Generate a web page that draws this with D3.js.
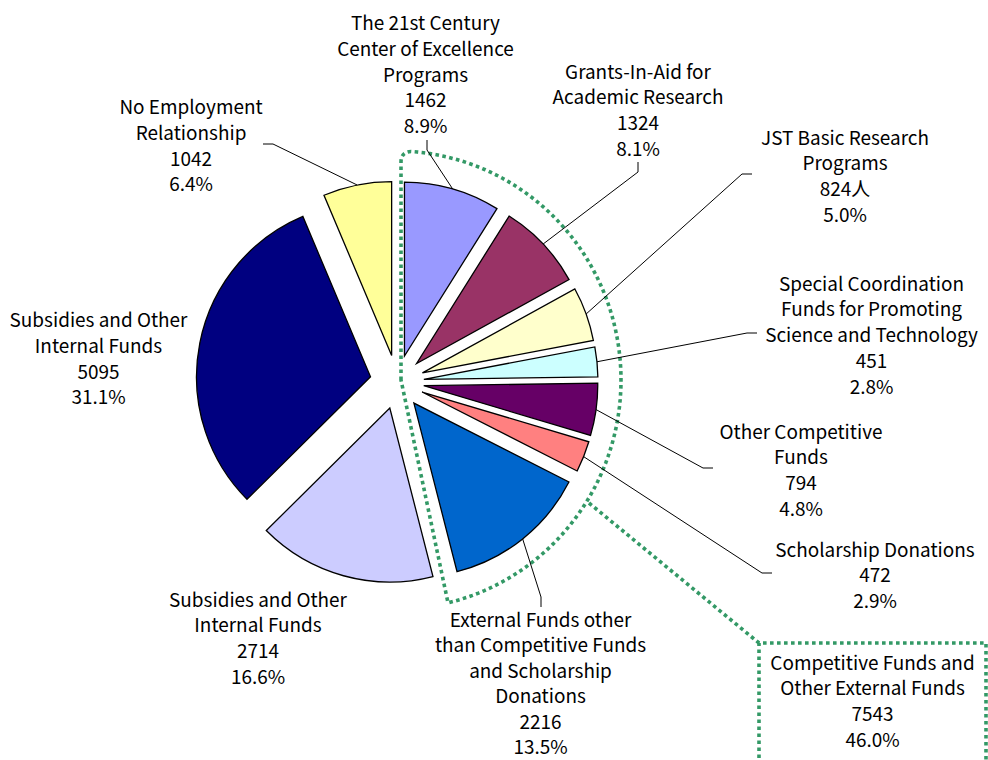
<!DOCTYPE html>
<html><head><meta charset="utf-8">
<script src="https://cdn.jsdelivr.net/npm/d3@7"></script>
<style>body{margin:0;background:#fff}</style>
</head><body><svg id="c" width="988" height="760"></svg>
<script>
// ---- data ----
const categories = [
  "The 21st Century\nCenter of Excellence\nPrograms",
  "Grants-In-Aid for\nAcademic Research",
  "JST Basic Research\nPrograms",
  "Special Coordination\nFunds for Promoting\nScience and Technology",
  "Other Competitive\nFunds",
  "Scholarship Donations",
  "External Funds other\nthan Competitive Funds\nand Scholarship\nDonations",
  "Subsidies and Other\nInternal Funds",
  "Subsidies and Other\nInternal Funds",
  "No Employment\nRelationship"
];
const values = [1462, 1324, 824, 451, 794, 472, 2216, 2714, 5095, 1042];
const valueLabels = ["1462", "1324", "824人", "451", "794", "472", "2216", "2714", "5095", "1042"];
const percentLabels = ["8.9%", "8.1%", "5.0%", "2.8%", "4.8%", "2.9%", "13.5%", "16.6%", "31.1%", "6.4%"];
const groupTitle = "Competitive Funds and\nOther External Funds";
const groupValue = "7543";
const groupPercent = "46.0%";

// ---- styles / layout ----
const colors = ["#9999FF", "#993366", "#FFFFCC", "#CCFFFF", "#660066", "#FF8080", "#0066CC", "#CCCCFF", "#000080", "#FFFF99"];
const cx = 397, cy = 382, R = 174, explode = 27;
const labelPos = [[425.5,30],[638,78.5],[845,144.5],[871.5,290.5],[801,438.5],[875,556.5],[540.5,627],[258,606.5],[98.5,327],[191,114]];
const leaderElbows = [[[427,150],[427,140]],[[638,172],[638,162]],[[742,174],[752,174]],[[747,333],[757,333]],[[703,468],[713,468]],[[762,573],[772,573]],[[541,597],[541,607]],null,null,[[273,144],[263,144]]];
const lineH = 25.8;
const FONT = "'Noto Sans CJK JP', 'Noto Sans', sans-serif";
const green = "#339966";

const svg = d3.select("#c");

// calibrate font size so that a reference line has the reference width
const probe = svg.append("text").attr("font-family", FONT).attr("font-size", 100).text("Subsidies and Other");
const fs = 178 / probe.node().getComputedTextLength() * 100;
probe.remove();

const pie = d3.pie().sort(null).startAngle(0).endAngle(2*Math.PI)(values);
const arc = d3.arc().innerRadius(0).outerRadius(R);

// dotted group outline
const ecx = 396, ecy = 380, erx = 225, ery = 229;
const t0 = Math.asin(15/erx), t1 = Math.PI - Math.asin(52/erx);
const pts = d3.range(0, 101).map(i => { const t = t0 + (t1 - t0) * i / 100; return [ecx + erx*Math.sin(t), ecy - ery*Math.cos(t)]; });
const gp = d3.path();
gp.moveTo(401, 380); gp.lineTo(401, 162); gp.quadraticCurveTo(401, 152, pts[0][0], pts[0][1]);
pts.forEach(p => gp.lineTo(p[0], p[1]));
gp.closePath();

// slices
const g = svg.append("g");
g.selectAll("path.slice").data(pie).join("path")
  .attr("class", "slice")
  .attr("transform", d => { const m = (d.startAngle + d.endAngle)/2; return `translate(${cx + explode*Math.sin(m)},${cy - explode*Math.cos(m)})`; })
  .attr("d", arc)
  .attr("fill", (d,i) => colors[i])
  .attr("stroke", "#000").attr("stroke-width", 1.3).attr("stroke-linejoin", "miter");

svg.append("path").attr("d", gp.toString()).attr("fill", "none")
  .attr("stroke", green).attr("stroke-width", 3.6).attr("stroke-dasharray", "3.6,3.4");
svg.append("path").attr("d", "M589,503 L759,643").attr("fill", "none")
  .attr("stroke", green).attr("stroke-width", 3.6).attr("stroke-dasharray", "3.6,3.4");
svg.append("path").attr("d", "M759,765 L759,643 L986,643 L986,765").attr("fill", "none")
  .attr("stroke", green).attr("stroke-width", 3.6).attr("stroke-dasharray", "3.6,3.4");

// leader lines
pie.forEach((d, i) => {
  const el = leaderElbows[i]; if (!el) return;
  const m = (d.startAngle + d.endAngle)/2;
  const sx = cx + explode*Math.sin(m) + R*Math.sin(m), sy = cy - explode*Math.cos(m) - R*Math.cos(m);
  const p = d3.path(); p.moveTo(sx, sy); el.forEach(q => p.lineTo(q[0], q[1]));
  svg.append("path").attr("d", p.toString()).attr("fill", "none").attr("stroke", "#000").attr("stroke-width", 1);
});

// labels
function block(x, y, lines, lh) {
  const t = svg.append("text").attr("font-family", FONT).attr("font-size", fs).attr("text-anchor", "middle").attr("fill", "#000");
  lines.forEach((s, k) => t.append("tspan").attr("x", x).attr("y", y + k*(lh || lineH)).text(s));
}
pie.forEach((d, i) => {
  block(labelPos[i][0], labelPos[i][1], categories[i].split("\n").concat([valueLabels[i], percentLabels[i]]), i === 6 ? 25.4 : lineH);
});
block(872.5, 669.5, groupTitle.split("\n").concat([groupValue, groupPercent]));
</script></body></html>
